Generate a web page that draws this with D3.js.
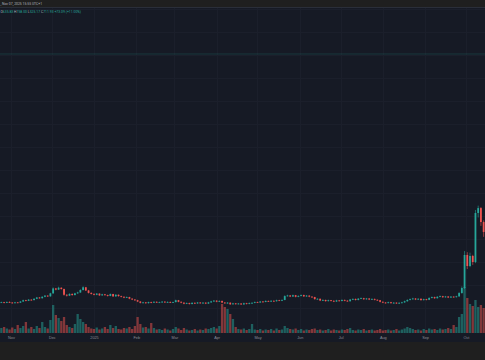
<!DOCTYPE html>
<html>
<head>
<meta charset="utf-8">
<script src="https://cdn.jsdelivr.net/npm/d3@7"></script>
<style>
  html, body { margin: 0; padding: 0; background: #1f1f1f; overflow: hidden; }
  svg { display: block; }
</style>
</head>
<body>
<div id="chart"></div>
<script>
// 2-day candles
var startDate = new Date(2024, 9, 24);
var firstOpen = 198;

var closes = [200,196,202,198,195,199,197,205,214,210,
  218,215,224,233,228,238,246,241,262,296,
  288,301,292,252,246,258,250,262,268,285,
  304,282,265,258,252,260,248,255,250,244,
  257,241,252,243,238,232,236,225,219,214,
  205,196,199,194,201,197,203,198,200,204,
  199,202,198,201,214,203,197,190,194,188,
  196,192,198,193,197,191,199,206,211,204,
  209,198,194,197,186,192,188,191,185,193,
  189,194,196,201,198,205,202,209,206,210,
  207,214,211,216,243,247,240,249,238,244,
  250,241,246,239,236,222,224,212,216,208,
  214,210,205,213,209,216,211,207,219,223,
  216,225,228,221,226,219,223,217,214,203,
  198,195,200,194,197,192,196,199,207,216,
  222,226,219,224,215,221,217,230,236,228,
  238,242,235,240,233,239,236,241,264,299,
  529,452,522,480,821,855,758,689];

var highs = [204,203,205,206,201,203,202,208,218,217,
  222,221,228,237,236,242,250,249,266,303,
  300,308,304,295,256,262,261,266,273,290,
  311,307,286,269,262,264,262,259,258,253,
  261,259,256,254,246,241,240,238,228,222,
  217,208,203,202,204,204,207,206,204,208,
  207,206,205,204,218,216,206,200,198,197,
  199,199,202,201,201,200,203,210,215,214,
  213,212,201,201,199,196,195,195,194,197,
  196,198,200,205,204,209,208,213,212,214,
  213,218,217,220,248,252,250,253,251,248,
  254,253,250,249,242,238,228,226,220,218,
  218,216,213,217,215,220,219,214,223,227,
  226,229,233,231,230,229,227,226,220,216,
  206,201,204,203,201,200,200,203,211,220,
  226,231,229,228,227,225,224,234,240,239,
  242,247,245,244,243,243,242,245,270,310,
  556,548,545,530,842,872,862,770];

var lows = [195,193,194,195,191,192,194,195,203,207,
  208,211,213,221,225,226,235,237,239,259,
  283,285,288,246,240,243,246,248,258,265,
  282,278,261,254,248,249,244,245,246,240,
  242,237,238,239,234,228,229,221,215,210,
  201,192,193,190,191,193,195,195,196,197,
  196,196,195,195,199,200,193,186,187,184,
  185,188,189,190,190,187,188,196,203,200,
  201,194,189,190,181,183,184,185,181,182,
  185,186,191,193,195,196,199,200,203,203,
  204,205,208,208,214,240,236,237,234,235,
  241,237,238,235,232,218,219,208,209,204,
  205,206,201,202,205,206,207,203,205,216,
  212,213,222,217,218,215,216,213,210,199,
  194,191,192,190,190,188,189,193,196,204,
  213,219,215,216,211,212,213,215,227,224,
  226,235,231,232,229,230,232,233,238,260,
  292,431,444,460,472,790,731,655];

var volumes = [10,12,9,7,11,8,16,10,14,22,
  9,12,8,14,10,22,12,9,26,56,
  36,30,24,32,16,12,10,18,38,28,
  22,18,12,9,8,11,7,9,12,8,
  16,10,14,8,7,10,9,12,8,14,
  32,18,11,12,9,20,10,7,8,6,
  9,7,5,8,12,9,6,10,7,5,
  6,8,5,7,6,9,8,10,12,9,
  14,58,52,48,38,28,12,8,7,9,
  6,8,18,7,6,8,5,7,6,8,
  5,9,6,7,14,10,8,7,9,6,
  8,5,7,6,8,9,6,7,5,6,
  8,5,7,6,5,7,6,8,10,6,
  5,7,6,8,5,6,7,5,6,8,
  5,6,7,5,6,8,5,7,9,12,
  10,8,6,7,5,8,6,9,7,8,
  6,9,7,8,10,8,16,12,32,38,
  92,70,58,54,66,52,56,50];

var monthTicks = ["2024-11-01","2024-12-01","2025-01-01","2025-02-01","2025-03-01","2025-04-01",
  "2025-05-01","2025-06-01","2025-07-01","2025-08-01","2025-09-01","2025-10-01"];
var monthLabels = ["Nov","Dec","2025","Feb","Mar","Apr","May","Jun","Jul","Aug","Sep","Oct"];

var headerText = ", Nov 07, 2025 15:55 UTC+1";
var legendKeys = ["O", "H", "L", "C", ""];
var legendValues = ["635.83", "758.00", "525.17", "711.93", "+73.09 (+11.00%)"];
var priceLineValue = 1927;
var gridStep = 160;

var W = 485, H = 360;
var paneTop = 8, paneBottom = 333, axisBottom = 342;
var up = "#26a69a", down = "#ef5350";

var svg = d3.select("#chart").append("svg")
  .attr("width", W).attr("height", H)
  .style("font-family", "Roboto, 'Noto Sans', sans-serif");

// header strip + pane background
svg.append("rect").attr("width", W).attr("height", H).attr("fill", "#1f1f1f");
svg.append("rect").attr("y", paneTop).attr("width", W).attr("height", axisBottom - paneTop).attr("fill", "#161a25");
svg.append("line").attr("x1", 0).attr("x2", W).attr("y1", paneTop - 0.5).attr("y2", paneTop - 0.5)
  .attr("stroke", "#2a2e39").attr("stroke-width", 1);

var parse = d3.timeParse("%Y-%m-%d");
var tickDates = monthTicks.map(parse);

var x = d3.scaleTime()
  .domain([new Date(2024, 9, 24), new Date(2025, 9, 15)])
  .range([0, W]);
var y = d3.scaleLinear().domain([0, 2240]).range([331, 9]);
var v = d3.scaleLinear().domain([0, 100]).range([paneBottom, paneBottom - 50]);

var candles = closes.map(function(c, i) {
  return {
    date: d3.timeDay.offset(startDate, 2 * i + 1),
    open: i ? closes[i - 1] : firstOpen,
    close: c, high: highs[i], low: lows[i], volume: volumes[i]
  };
});

var pane = svg.append("g");
pane.append("clipPath").attr("id", "clip").append("rect")
  .attr("y", paneTop).attr("width", W).attr("height", paneBottom - paneTop);

// grid
var grid = pane.append("g").attr("stroke", "#1b1f2b").attr("stroke-width", 1);
grid.selectAll(".vg").data(tickDates).enter().append("line")
  .attr("x1", function(d) { return Math.round(x(d)) + 0.5; })
  .attr("x2", function(d) { return Math.round(x(d)) + 0.5; })
  .attr("y1", paneTop).attr("y2", paneBottom);
grid.selectAll(".hg").data(d3.range(gridStep, 2241, gridStep)).enter().append("line")
  .attr("x1", 0).attr("x2", W)
  .attr("y1", function(d) { return Math.round(y(d)) + 0.5; })
  .attr("y2", function(d) { return Math.round(y(d)) + 0.5; });

// horizontal price line
pane.append("line").attr("x1", 0).attr("x2", W)
  .attr("y1", y(priceLineValue)).attr("y2", y(priceLineValue))
  .attr("stroke", up).attr("stroke-opacity", 0.3).attr("stroke-width", 0.7);

var plot = pane.append("g").attr("clip-path", "url(#clip)");

// volume
plot.selectAll(".vol").data(candles).enter().append("rect")
  .attr("x", function(d) { return x(d.date) - 1.15; })
  .attr("width", 2.3)
  .attr("y", function(d) { return v(d.volume); })
  .attr("height", function(d) { return paneBottom - v(d.volume); })
  .attr("fill", function(d) { return d.close >= d.open ? up : down; })
  .attr("fill-opacity", 0.5);

// wicks
plot.selectAll(".wick").data(candles).enter().append("line")
  .attr("x1", function(d) { return x(d.date); })
  .attr("x2", function(d) { return x(d.date); })
  .attr("y1", function(d) { return y(d.high); })
  .attr("y2", function(d) { return y(d.low); })
  .attr("stroke", function(d) { return d.close >= d.open ? up : down; })
  .attr("stroke-width", 0.6);

// bodies
plot.selectAll(".body").data(candles).enter().append("rect")
  .attr("x", function(d) { return x(d.date) - 0.9; })
  .attr("width", 1.8)
  .attr("y", function(d) { return y(Math.max(d.open, d.close)); })
  .attr("height", function(d) { return Math.max(0.8, Math.abs(y(d.open) - y(d.close))); })
  .attr("fill", function(d) { return d.close >= d.open ? up : down; });

// time axis
var axis = svg.append("g")
  .attr("transform", "translate(0," + (paneBottom + 1) + ")")
  .call(d3.axisBottom(x).tickValues(tickDates).tickSize(0).tickPadding(2.5)
    .tickFormat(function(d, i) { return monthLabels[i]; }));
axis.select(".domain").remove();
axis.selectAll("text").attr("fill", "#8a8d96").style("font-size", "3.8px");

// header and legend
svg.append("text").attr("x", 0.5).attr("y", 5.3)
  .attr("fill", "#b2b5be").style("font-size", "3.4px").text(headerText);

var legend = svg.append("text").attr("x", 0.5).attr("y", 13.2)
  .style("font-size", "3.4px");
legendKeys.forEach(function(k, i) {
  if (k) legend.append("tspan").attr("fill", "#b2b5be").text((i ? " " : "") + k);
  legend.append("tspan").attr("fill", up).text((k ? "" : " ") + legendValues[i]);
});
</script>
</body>
</html>
